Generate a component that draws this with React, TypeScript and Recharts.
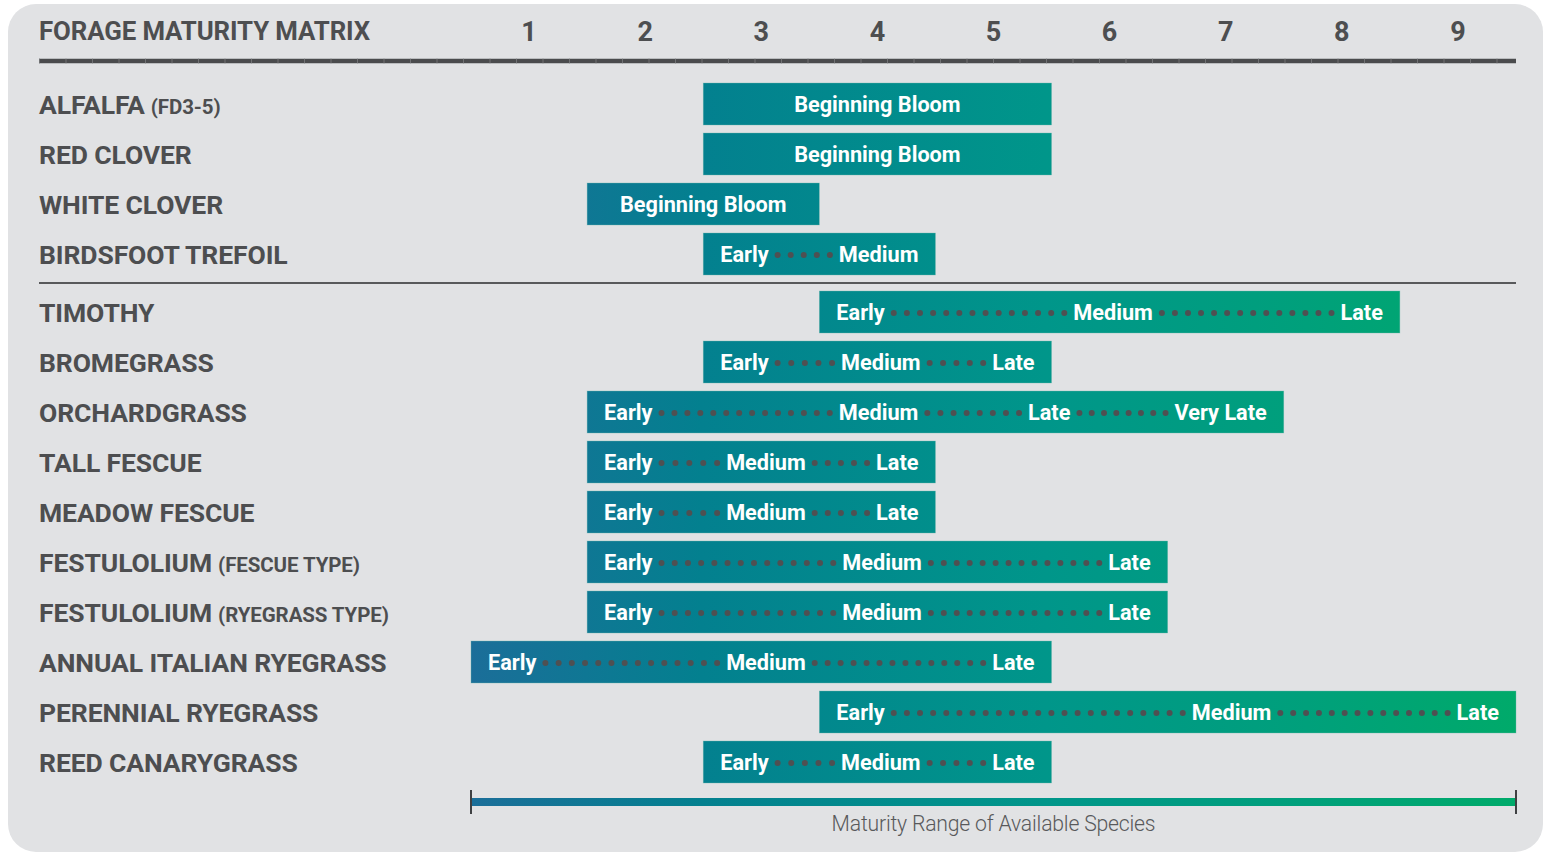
import React from 'react';
import { BarChart, Bar, XAxis, YAxis } from 'recharts';

const speciesNames = [
  'ALFALFA', 'RED CLOVER', 'WHITE CLOVER', 'BIRDSFOOT TREFOIL',
  'TIMOTHY', 'BROMEGRASS', 'ORCHARDGRASS', 'TALL FESCUE', 'MEADOW FESCUE',
  'FESTULOLIUM', 'FESTULOLIUM', 'ANNUAL ITALIAN RYEGRASS', 'PERENNIAL RYEGRASS', 'REED CANARYGRASS',
];
const speciesNotes = ['(FD3-5)', '', '', '', '', '', '', '', '', '(FESCUE TYPE)', '(RYEGRASS TYPE)', '', '', ''];
const speciesGroups = ['legume', 'legume', 'legume', 'legume', 'grass', 'grass', 'grass', 'grass', 'grass', 'grass', 'grass', 'grass', 'grass', 'grass'];
const rangeStart = [2.5, 2.5, 1.5, 2.5, 3.5, 2.5, 1.5, 1.5, 1.5, 1.5, 1.5, 0.5, 3.5, 2.5];
const rangeEnd = [5.5, 5.5, 3.5, 4.5, 8.5, 5.5, 7.5, 4.5, 4.5, 6.5, 6.5, 5.5, 9.5, 5.5];
const stageLabels: string[][] = [
  ['Beginning Bloom'], ['Beginning Bloom'], ['Beginning Bloom'], ['Early', 'Medium'],
  ['Early', 'Medium', 'Late'], ['Early', 'Medium', 'Late'], ['Early', 'Medium', 'Late', 'Very Late'],
  ['Early', 'Medium', 'Late'], ['Early', 'Medium', 'Late'], ['Early', 'Medium', 'Late'],
  ['Early', 'Medium', 'Late'], ['Early', 'Medium', 'Late'], ['Early', 'Medium', 'Late'], ['Early', 'Medium', 'Late'],
];
// maturity value at which the intermediate stage labels sit
const stageMids: number[][] = [
  [], [], [], [], [6.03], [4.03], [4.01, 5.48], [3.04], [3.04], [4.04], [4.04], [3.04], [7.05], [4.03],
];
const maturityTicks = [1, 2, 3, 4, 5, 6, 7, 8, 9];
const titleText = 'FORAGE MATURITY MATRIX';
const legendText = 'Maturity Range of Available Species';

const data = speciesNames.map((name, i) => ({
  name: `${name}|${i}`,
  label: name,
  note: speciesNotes[i],
  group: speciesGroups[i],
  range: [rangeStart[i], rangeEnd[i]],
  stages: stageLabels[i],
  mids: stageMids[i],
}));

const TEXT = '#4d4e50';
const FONT = 'Roboto, "Noto Sans", sans-serif';
const BAR_FONT_SIZE = 21.7;
const BAR_FONT_WEIGHT = 700;

let ctx: CanvasRenderingContext2D | null = null;
function measure(text: string) {
  if (!ctx) ctx = document.createElement('canvas').getContext('2d');
  if (!ctx) return text.length * 10;
  ctx.font = `${BAR_FONT_WEIGHT} ${BAR_FONT_SIZE}px Roboto`;
  return ctx.measureText(text).width;
}

const GROUP_SHIFT = 8;

const BarShape = (props: any) => {
  const { x, y, width, height, payload } = props;
  const dy = payload.group === 'grass' ? GROUP_SHIFT : 0;
  const top = y + dy - 1;
  const cy = top + height / 2;
  const [s, e] = payload.range;
  const toPx = (v: number) => x + ((v - s) / (e - s)) * width;
  const stages: string[] = payload.stages;
  const pad = 17;
  const items = stages.map((t, i) => {
    const w = measure(t);
    let left: number;
    if (stages.length === 1) left = x + width / 2 - w / 2;
    else if (i === 0) left = x + pad;
    else if (i === stages.length - 1) left = x + width - pad - w;
    else left = toPx(payload.mids[i - 1]) - w / 2;
    return { t, left, right: left + w };
  });
  const dots: number[] = [];
  for (let i = 0; i < items.length - 1; i++) {
    const a = items[i].right + 9;
    const b = items[i + 1].left - 9;
    if (b <= a) continue;
    const n = Math.max(1, Math.round((b - a) / 13) + 1);
    for (let k = 0; k < n; k++) dots.push(n === 1 ? (a + b) / 2 : a + ((b - a) * k) / (n - 1));
  }
  return (
    <g>
      <rect x={x} y={top} width={width} height={height} fill="url(#matGrad)" stroke="#6fb8ad" strokeWidth={0.6} strokeOpacity={0.6} />
      {dots.map((dx, k) => (
        <circle key={k} cx={dx} cy={cy + 1} r={3} fill="#4f5052" />
      ))}
      {items.map((it, k) => (
        <text key={k} x={it.left} y={cy + 7.5} fill="#ffffff" fontFamily={FONT} fontWeight={BAR_FONT_WEIGHT} fontSize={BAR_FONT_SIZE}>
          {it.t}
        </text>
      ))}
    </g>
  );
};

const YTick = (props: any) => {
  const { y, index } = props;
  const d = data[index];
  if (!d) return null;
  const dy = d.group === 'grass' ? GROUP_SHIFT : 0;
  return (
    <text x={39} y={y + dy + 9} fill={TEXT} fontFamily={FONT} fontWeight={700} fontSize={26.5} letterSpacing={-0.1}>
      {d.label}
      {d.note ? (
        <tspan fontSize={20.5} dx={6}>{d.note}</tspan>
      ) : null}
    </text>
  );
};

const XTick = (props: any) => {
  const { x, payload } = props;
  return (
    <text x={x} y={41} textAnchor="middle" fill={TEXT} fontFamily={FONT} fontWeight={700} fontSize={27}>
      {payload.value}
    </text>
  );
};

export default function App() {
  return (
    <div style={{ position: 'absolute', left: 0, top: 0, width: 1546, height: 852, background: '#ffffff', overflow: 'hidden' }}>
      <div style={{ position: 'absolute', left: 8, top: 4, width: 1535, height: 848, borderRadius: 28, background: '#e1e2e4' }} />
      <svg style={{ position: 'absolute', left: 0, top: 0 }} width={1546} height={852}>
        <defs>
          <linearGradient id="legendGrad" gradientUnits="userSpaceOnUse" x1={471} y1={0} x2={1516} y2={0}>
            <stop offset="0" stopColor="#1b6e99" />
            <stop offset="0.22" stopColor="#03808f" />
            <stop offset="0.55" stopColor="#00968a" />
            <stop offset="0.8" stopColor="#00a07b" />
            <stop offset="1" stopColor="#00aa6a" />
          </linearGradient>
        </defs>
        <text x={39} y={40} fill={TEXT} fontFamily={FONT} fontWeight={700} fontSize={25.8} letterSpacing={-0.1}>
          {titleText}
        </text>
        <line x1={39} x2={1516} y1={61} y2={61} stroke="#4a4b4d" strokeWidth={4.5} />
        <line x1={39} x2={1516} y1={61} y2={61} stroke="#707173" strokeWidth={4.5} strokeDasharray="1 25.5" />
        <line x1={39} x2={1516} y1={283} y2={283} stroke="#58595b" strokeWidth={2} />
        <rect x={471} y={798} width={1045} height={8} fill="url(#legendGrad)" />
        <line x1={471} x2={471} y1={790} y2={814} stroke="#3f4042" strokeWidth={2} />
        <line x1={1516} x2={1516} y1={790} y2={814} stroke="#3f4042" strokeWidth={2} />
        <text x={993.5} y={831} textAnchor="middle" fill="#58595b" fontFamily={FONT} fontWeight={300} fontSize={21.2} letterSpacing={-0.2}>
          {legendText}
        </text>
      </svg>
      <div style={{ position: 'absolute', left: 0, top: 0 }}>
        <BarChart
          width={1546}
          height={852}
          data={data}
          layout="vertical"
          margin={{ top: 0, right: 30, bottom: 72, left: 0 }}
          barSize={42}
        >
          <defs>
            <linearGradient id="matGrad" gradientUnits="userSpaceOnUse" x1={471} y1={0} x2={1516} y2={0}>
              <stop offset="0" stopColor="#1b6e99" />
              <stop offset="0.22" stopColor="#03808f" />
              <stop offset="0.55" stopColor="#00968a" />
              <stop offset="0.8" stopColor="#00a07b" />
              <stop offset="1" stopColor="#00aa6a" />
            </linearGradient>
          </defs>
          <XAxis
            type="number"
            orientation="top"
            domain={[0.5, 9.5]}
            ticks={maturityTicks}
            height={80}
            axisLine={false}
            tickLine={false}
            tick={<XTick />}
            interval={0}
          />
          <YAxis
            type="category"
            dataKey="name"
            width={471}
            axisLine={false}
            tickLine={false}
            tick={<YTick />}
            interval={0}
          />
          <Bar dataKey="range" shape={<BarShape />} isAnimationActive={false} />
        </BarChart>
      </div>
    </div>
  );
}
